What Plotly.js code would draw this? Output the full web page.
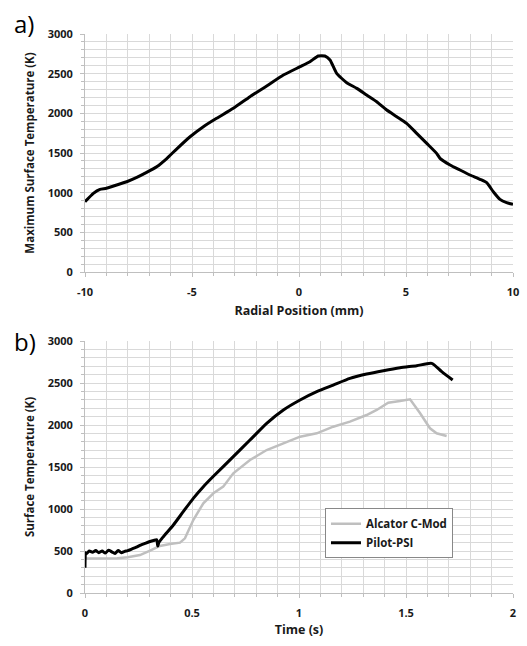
<!DOCTYPE html>
<html>
<head>
<meta charset="utf-8">
<script src="https://cdn.plot.ly/plotly-3.0.1.min.js"></script>
<style>html,body{margin:0;padding:0;background:#fff;}#chart{width:527px;height:646px;}</style>
</head>
<body>
<div id="chart"></div>
<script>
// Panel a: radial profile
const radialPos = [-10, -9.61, -9.3, -9.0, -8.52, -8.05, -7.58, -7.12, -6.65, -6.18, -5.72, -5.09, -4.47, -3.85, -3.07, -2.29, -1.51, -0.73, 0.05, 0.51, 0.9, 1.21, 1.45, 1.76, 2.23, 2.70, 3.16, 3.63, 4.10, 4.57, 5.03, 5.50, 5.97, 6.43, 6.59, 7.06, 7.52, 7.99, 8.46, 8.77, 9.08, 9.39, 9.70, 10.0];
const maxTemp = [886, 992, 1042, 1055, 1097, 1138, 1193, 1256, 1327, 1430, 1550, 1705, 1832, 1937, 2063, 2210, 2345, 2483, 2588, 2651, 2723, 2723, 2672, 2504, 2386, 2315, 2231, 2147, 2042, 1958, 1874, 1748, 1622, 1496, 1433, 1349, 1286, 1223, 1168, 1126, 1012, 916, 874, 853];
const radialTicks = [-10, -5, 0, 5, 10];
const radialTickText = ['-10', '-5', '0', '5', '10'];

// Panel b: time traces
const pilotTime = [0, 0.003, 0.008, 0.02, 0.035, 0.05, 0.065, 0.08, 0.095, 0.11, 0.125, 0.14, 0.155, 0.17, 0.185, 0.2, 0.22, 0.24, 0.26, 0.28, 0.30, 0.32, 0.335, 0.34, 0.345, 0.366, 0.413, 0.459, 0.506, 0.553, 0.6, 0.693, 0.771, 0.849, 0.927, 1.005, 1.083, 1.16, 1.238, 1.316, 1.394, 1.472, 1.55, 1.62, 1.667, 1.718];
const pilotTemp = [300, 480, 470, 500, 485, 505, 480, 500, 475, 510, 490, 470, 505, 480, 495, 505, 525, 545, 570, 590, 610, 625, 635, 560, 600, 670, 810, 968, 1127, 1266, 1390, 1623, 1821, 2020, 2179, 2298, 2397, 2476, 2556, 2607, 2647, 2682, 2706, 2734, 2635, 2536];
const alcatorTime = [0, 0.05, 0.1, 0.15, 0.2, 0.257, 0.304, 0.35, 0.397, 0.444, 0.467, 0.506, 0.553, 0.6, 0.646, 0.693, 0.771, 0.849, 0.927, 1.005, 1.083, 1.16, 1.238, 1.316, 1.363, 1.417, 1.472, 1.519, 1.566, 1.612, 1.643, 1.69];
const alcatorTemp = [410, 412, 410, 415, 425, 452, 504, 560, 583, 599, 651, 869, 1068, 1187, 1266, 1425, 1583, 1702, 1782, 1861, 1901, 1980, 2040, 2119, 2179, 2266, 2286, 2306, 2139, 1961, 1901, 1869];

const FONT = '"Open Sans", sans-serif';
const tickFont = {family: FONT, size: 11, color: '#1a1a1a', weight: 700};
const titleFont = {family: FONT, size: 11.5, color: '#1a1a1a', weight: 700};
const grid = '#d9d9d9';

function yax(domain, title) {
  return {
    domain: domain, range: [0, 3000], dtick: 500, tick0: 0,
    showgrid: true, gridcolor: grid, gridwidth: 1,
    minor: {dtick: 100, showgrid: true, gridcolor: grid, ticks: 'outside', ticklen: 3, tickcolor: '#bfbfbf'},
    ticks: 'outside', ticklen: 4, tickcolor: '#bfbfbf',
    showline: true, linecolor: '#bfbfbf', linewidth: 1,
    zeroline: false, tickfont: tickFont, ticklabelstandoff: 5,
    title: {text: title, font: titleFont, standoff: 10}, fixedrange: true
  };
}

const traces = [
  {x: radialPos, y: maxTemp, xaxis: 'x', yaxis: 'y', mode: 'lines', line: {color: '#000', width: 3, shape: 'spline', smoothing: 0.5}, showlegend: false},
  {x: alcatorTime, y: alcatorTemp, xaxis: 'x2', yaxis: 'y2', mode: 'lines', name: 'Alcator C-Mod', line: {color: '#bfbfbf', width: 2.5}},
  {x: pilotTime, y: pilotTemp, xaxis: 'x2', yaxis: 'y2', mode: 'lines', name: 'Pilot-PSI', line: {color: '#000', width: 3, shape: 'spline', smoothing: 0.6}}
];

const layout = {
  width: 527, height: 646,
  margin: {l: 85, r: 14, t: 34, b: 53},
  paper_bgcolor: '#fff', plot_bgcolor: '#fff',
  showlegend: true,
  xaxis: {
    anchor: 'y', domain: [0, 1], range: [-10, 10],
    tickmode: 'array', tickvals: radialTicks, ticktext: radialTickText,
    showgrid: true, gridcolor: grid,
    minor: {dtick: 1, tick0: -10, showgrid: true, gridcolor: grid, ticks: 'outside', ticklen: 3, tickcolor: '#bfbfbf'},
    ticks: 'outside', ticklen: 4, tickcolor: '#bfbfbf',
    showline: true, linecolor: '#bfbfbf', zeroline: false, tickfont: tickFont, ticklabelstandoff: 6,
    title: {text: 'Radial Position (mm)', font: {family: FONT, size: 12.5, color: '#1a1a1a', weight: 700}, standoff: 8}
  },
  yaxis: yax([0.5742, 1], 'Maximum Surface Temperature (K)'),
  xaxis2: {
    anchor: 'y2', domain: [0, 1], range: [0, 2], dtick: 0.5, tick0: 0,
    showgrid: true, gridcolor: grid,
    minor: {dtick: 0.1, showgrid: true, gridcolor: grid, ticks: 'outside', ticklen: 3, tickcolor: '#bfbfbf'},
    ticks: 'outside', ticklen: 4, tickcolor: '#bfbfbf',
    showline: true, linecolor: '#bfbfbf', zeroline: false, tickfont: tickFont, ticklabelstandoff: 6,
    title: {text: 'Time (s)', font: {family: FONT, size: 12.5, color: '#1a1a1a', weight: 700}, standoff: 6}
  },
  yaxis2: yax([0, 0.4508], 'Surface Temperature (K)'),
  legend: {
    x: 0.5607, y: 0.1515, xanchor: 'left', yanchor: 'top',
    bgcolor: '#fff', bordercolor: '#888', borderwidth: 1,
    font: {family: FONT, size: 11.5, color: '#1a1a1a', weight: 700},
    tracegroupgap: 0, itemwidth: 30
  },
  annotations: [
    {text: 'a)', xref: 'paper', yref: 'paper', x: -0.17, y: 1.052, xanchor: 'left', yanchor: 'top', showarrow: false, font: {family: FONT, size: 24, color: '#000'}},
    {text: 'b)', xref: 'paper', yref: 'paper', x: -0.17, y: 0.483, xanchor: 'left', yanchor: 'top', showarrow: false, font: {family: FONT, size: 24, color: '#000'}}
  ]
};

Plotly.newPlot('chart', traces, layout, {displayModeBar: false, staticPlot: true});
</script>
</body>
</html>
